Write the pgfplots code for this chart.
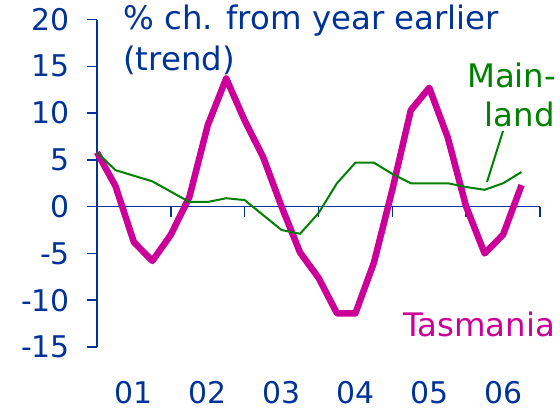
\documentclass[border=0pt]{standalone}
\usepackage{fontspec}
\setmainfont{DejaVu Sans}
\usepackage{pgfplots}
\usepackage{pgfplotstable}
\pgfplotsset{compat=1.18}

\definecolor{rbablue}{RGB}{0,51,153}
\definecolor{tasmag}{RGB}{204,0,153}
\definecolor{mlgreen}{RGB}{0,128,0}
\newcommand\numfont{\fontsize{30}{36}\selectfont}
\newcommand\wordfont{\fontsize{32.5}{39}\selectfont}

% year-ended % change, quarterly (trend)
\pgfplotstableread{
x       tas    main
2001.00  5.8   5.8
2001.25  2.2   3.9
2001.50 -3.8   3.3
2001.75 -5.8   2.7
2002.00 -3.0   1.6
2002.25  1.0   0.5
2002.50  8.7   0.5
2002.75 13.7   0.9
2003.00  9.2   0.7
2003.25  5.3  -0.9
2003.50  0.0  -2.5
2003.75 -4.9  -2.9
2004.00 -7.6  -0.7
2004.25 -11.4  2.5
2004.50 -11.4  4.7
2004.75 -6.0   4.7
2005.00  1.8   3.5
2005.25 10.3   2.5
2005.50 12.7   2.5
2005.75  7.4   2.5
2006.00  0.0   2.1
2006.25 -5.0   1.8
2006.50 -3.0   2.5
2006.75  2.3   3.7
}\datatable

\begin{document}
\begin{tikzpicture}
\begin{axis}[
    at={(0,0)}, anchor=south west,
    scale only axis, width=443bp, height=327.5bp,
    xmin=2001, xmax=2007, ymin=-15, ymax=20,
    axis x line=middle, axis y line=left,
    axis line style={rbablue, line width=1.5bp, -},
    xtick={2001,2002,2003,2004,2005,2006,2007}, xticklabels={},
    ytick={-15,-10,-5,0,5,10,15,20},
    yticklabels={-15,-10,-5,0,5,10,15,20},
    tick align=outside, xtick align=outside,
    major tick length=10bp,
    tick style={rbablue, line width=1.5bp},
    yticklabel style={font=\numfont, text=rbablue, inner sep=0pt, xshift=-17bp},
    clip=false,
]
\addplot[tasmag, line width=6.5bp, line join=round, mark=none] table[x=x, y=tas] {\datatable};
\addplot[mlgreen, line width=2bp, mark=none] table[x=x, y=main] {\datatable};
\end{axis}

% labels
\begin{scope}[every node/.style={font=\wordfont, inner sep=0pt}]
\node[text=rbablue, anchor=base west] at (26bp,317bp) {\% ch. from year earlier};
\node[text=rbablue, anchor=base west] at (26bp,276bp) {(trend)};
\node[text=mlgreen, anchor=base west] at (370bp,259bp) {Main-};
\node[text=mlgreen, anchor=base east] at (458bp,220bp) {land};
\node[text=tasmag, anchor=base west] at (306bp,11bp) {Tasmania};
\foreach \i/\lab in {0/01,1/02,2/03,3/04,4/05,5/06}
  \node[font=\numfont, text=rbablue, anchor=base] at ({36.9bp+73.83bp*\i},-56bp) {\lab};
\end{scope}
\draw[mlgreen, line width=2bp] (406bp,216bp) -- (390bp,165bp);

\pgfresetboundingbox
\path[use as bounding box] (-97bp,-62bp) rectangle (463bp,347bp);
\end{tikzpicture}
\end{document}
